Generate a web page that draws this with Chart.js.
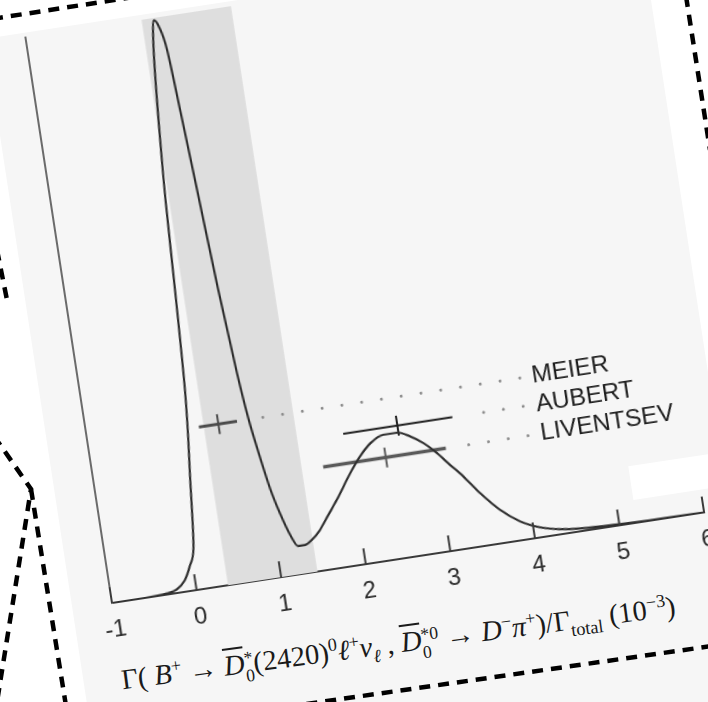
<!DOCTYPE html>
<html>
<head>
<meta charset="utf-8">
<title>Ideogram</title>
<script src="https://cdn.jsdelivr.net/npm/chart.js@4.4.0/dist/chart.umd.min.js"></script>
<style>
  html, body { margin: 0; padding: 0; background: #fff; }
  body { width: 708px; height: 702px; position: relative; overflow: hidden; }
  #sheet {
    position: absolute; left: 72px; top: 26px;
    width: 664px; height: 840px;
    background: #f6f6f6;
    transform-origin: 40px 577px;
    transform: rotate(-8.7deg);
  }
  #patch { position: absolute; left: 571px; top: 520px; width: 93px; height: 34px; background: #fff; }
  #ideogramChart { position: absolute; left: 0; top: 0; }
  #xtitle {
    position: absolute; white-space: nowrap;
    font: 28.5px "Liberation Serif", "DejaVu Serif", serif; color: #1a1a1a;
    transform-origin: 0 0; transform: rotate(1.1deg);
  }
  #xtitle sup, #xtitle sub { font-size: 64%; line-height: 0; }
  #xtitle .ov { text-decoration: overline; }
  #xtitle .st { display: inline-flex; flex-direction: column; font-size: 62%; line-height: 1; vertical-align: 0.5em; }
  #cuts { position: absolute; left: 0; top: 0; }
</style>
</head>
<body>
<div id="sheet">
  <div id="patch"></div>
  <canvas id="ideogramChart" width="664" height="627"></canvas>
  <div id="xtitle">Γ( <i>B</i><sup>+</sup> → <span class="ov"><i>D</i></span><span class="st"><span>*</span><span>0</span></span>(2420)<sup>0</sup><i>ℓ</i><sup>+</sup><i>ν</i><sub><i>ℓ</i></sub> , <span class="ov"><i>D</i></span><span class="st"><span>*0</span><span>0</span></span> → <i>D</i><sup>−</sup><i>π</i><sup>+</sup>)/Γ<sub>total</sub> (10<sup>−3</sup>)</div>
</div>
<svg id="cuts" width="708" height="702" viewBox="0 0 708 702">
  <g fill="none" stroke="#000" stroke-width="4.5" stroke-dasharray="11 8">
    <path d="M -8 19 L 140 -4"/>
    <path d="M 686 -4 L 710 150"/>
    <path d="M -3 250 L 7 300"/>
    <path d="M -6 436 L 31 489 L -3 702"/>
    <path d="M 31 489 L 66 706"/>
    <path d="M 250 712 L 712 646"/>
  </g>
</svg>

<script>
  // ideogram curve: x in units of 10^-3, height in percent of the frame
  const ideoX = [-1.0, -0.6, -0.35, -0.23, -0.12, -0.04, 0.04, 0.12, 0.22, 0.28, 0.33, 0.41, 0.47, 0.515,
    0.56, 0.615, 0.66, 0.71, 0.78, 0.85, 0.9, 0.95, 1.03, 1.1, 1.18, 1.25, 1.33, 1.42, 1.53, 1.65, 1.78,
    1.98, 2.12, 2.27, 2.43, 2.59, 2.74, 2.88, 3.02, 3.15, 3.25, 3.35, 3.45, 3.65, 3.86, 4.08, 4.31, 4.55,
    5.0, 5.5, 6.0];
  const ideoY = [0, 0, 0.2, 0.6, 2.0, 4.2, 7.5, 19, 35, 52, 68, 86, 96, 99.6,
    98.4, 94, 83, 70, 51.5, 36.5, 28.5, 23, 15.5, 11, 7, 4.9, 4.9, 5.6, 7.1, 9.4, 11.9,
    16.1, 18.7, 20.8, 21.9, 21.9, 20.9, 19.4, 17.3, 14.9, 13.2, 11.2, 9.2, 5.8, 3.3, 1.75, 0.9, 0.5,
    0.2, 0.05, 0];

  // measurements, their errors and the row each one sits on
  const measNames = ['MEIER', 'AUBERT', 'LIVENTSEV'];
  const measValues = [0.545, 2.61, 2.42];
  const measErrLow = [0.23, 0.64, 0.74];
  const measErrHigh = [0.22, 0.65, 0.71];
  const measRows = [28.1, 23.1, 17.9];
  const leaderFrom = [1.07, 3.63, 3.40];
  const leaderTo = 4.12;
  const labelAt = 4.25;

  // weighted average with scaled error (shaded band)
  const avgValue = 0.90;
  const avgError = 0.53;

  const xTicks = [-1, 0, 1, 2, 3, 4, 5, 6];

  const barColors = ['#4a4a4a', '#1c1c1c', '#5a5a5a'];
  const barWidths = [3, 2, 3.5];
  const TICK_HALF = 1.75;
  const AXIS_CORNER = [112, 603];

  const datasets = [];

  datasets.push({
    label: 'ideogram',
    data: ideoX.map((x, i) => ({ x: x, y: ideoY[i] })),
    borderColor: '#2e2e2e',
    borderWidth: 2.2,
    pointRadius: 0,
    cubicInterpolationMode: 'monotone',
    fill: false,
    order: 0
  });

  datasets.push({
    label: 'average',
    data: [{ x: avgValue - avgError, y: 100 }, { x: avgValue + avgError, y: 100 }],
    borderColor: 'rgba(0,0,0,0)',
    borderWidth: 0,
    backgroundColor: '#dedede',
    fill: 'origin',
    pointRadius: 0,
    order: 10
  });

  measNames.forEach((name, i) => {
    const row = measRows[i];
    // dotted leader towards the label
    datasets.push({
      label: name + ' leader',
      data: [{ x: leaderFrom[i], y: row }, { x: leaderTo, y: row }],
      borderColor: '#8c8c8c',
      borderWidth: 3,
      borderDash: [0, 20],
      borderCapStyle: 'round',
      pointRadius: 0,
      fill: false,
      order: 5
    });
    // error bar
    datasets.push({
      label: name,
      data: [{ x: measValues[i] - measErrLow[i], y: row }, { x: measValues[i] + measErrHigh[i], y: row }],
      borderColor: barColors[i],
      borderWidth: barWidths[i],
      pointRadius: 0,
      fill: false,
      order: 2
    });
    // central value mark
    datasets.push({
      label: name + ' value',
      data: [{ x: measValues[i], y: row - TICK_HALF }, { x: measValues[i], y: row + TICK_HALF }],
      borderColor: barColors[i],
      borderWidth: 2,
      pointRadius: 0,
      fill: false,
      order: 2
    });
  });

  // tick marks pointing into the plot
  const innerTicks = {
    id: 'innerTicks',
    afterDraw(chart) {
      const { ctx, chartArea } = chart;
      const x = chart.scales.x;
      ctx.save();
      ctx.strokeStyle = '#3a3a3a';
      ctx.lineWidth = 2;
      x.ticks.forEach(t => {
        const px = x.getPixelForValue(t.value);
        ctx.beginPath();
        ctx.moveTo(px, chartArea.bottom);
        ctx.lineTo(px, chartArea.bottom - 16);
        ctx.stroke();
      });
      ctx.restore();
    }
  };

  // measurement names at the end of the leaders
  const rowLabels = {
    id: 'rowLabels',
    afterDatasetsDraw(chart) {
      const { ctx } = chart;
      const x = chart.scales.x, y = chart.scales.y;
      ctx.save();
      ctx.font = '24.5px "Liberation Sans", Arial, sans-serif';
      ctx.fillStyle = '#1e1e1e';
      ctx.textBaseline = 'middle';
      measNames.forEach((name, i) => {
        ctx.fillText(name, x.getPixelForValue(labelAt), y.getPixelForValue(measRows[i]));
      });
      ctx.restore();
    }
  };

  const chart = new Chart(document.getElementById('ideogramChart'), {
    type: 'line',
    data: { datasets: datasets },
    options: {
      responsive: false,
      animation: false,
      devicePixelRatio: 1,
      events: [],
      layout: { padding: { left: 40, right: 25, top: 5, bottom: 0 } },
      plugins: { legend: { display: false }, tooltip: { enabled: false } },
      scales: {
        x: {
          type: 'linear',
          min: -1,
          max: 6,
          z: 1,
          afterBuildTicks: s => { s.ticks = xTicks.map(v => ({ value: v })); },
          afterFit: s => { s.height = 50; },
          ticks: {
            autoSkip: false,
            maxRotation: 0,
            padding: 13,
            color: '#2a2a2a',
            font: { family: '"Liberation Sans", Arial, sans-serif', size: 24 }
          },
          grid: { drawOnChartArea: false, drawTicks: false },
          border: { color: '#3a3a3a', width: 2 }
        },
        y: {
          min: 0,
          max: 100,
          afterFit: s => { s.width = 0; },
          ticks: { display: false },
          grid: { drawOnChartArea: false, drawTicks: false },
          border: { color: '#6a6a6a', width: 2 }
        }
      }
    },
    plugins: [innerTicks, rowLabels]
  });

  // pin the axis corner of the rotated sheet
  const area = chart.chartArea;
  const sheet = document.getElementById('sheet');
  sheet.style.transformOrigin = area.left + 'px ' + area.bottom + 'px';
  sheet.style.left = (AXIS_CORNER[0] - area.left) + 'px';
  sheet.style.top = (AXIS_CORNER[1] - area.bottom) + 'px';

  const title = document.getElementById('xtitle');
  title.style.left = (area.left - 2) + 'px';
  title.style.top = (area.bottom + 62) + 'px';
</script>
</body>
</html>
